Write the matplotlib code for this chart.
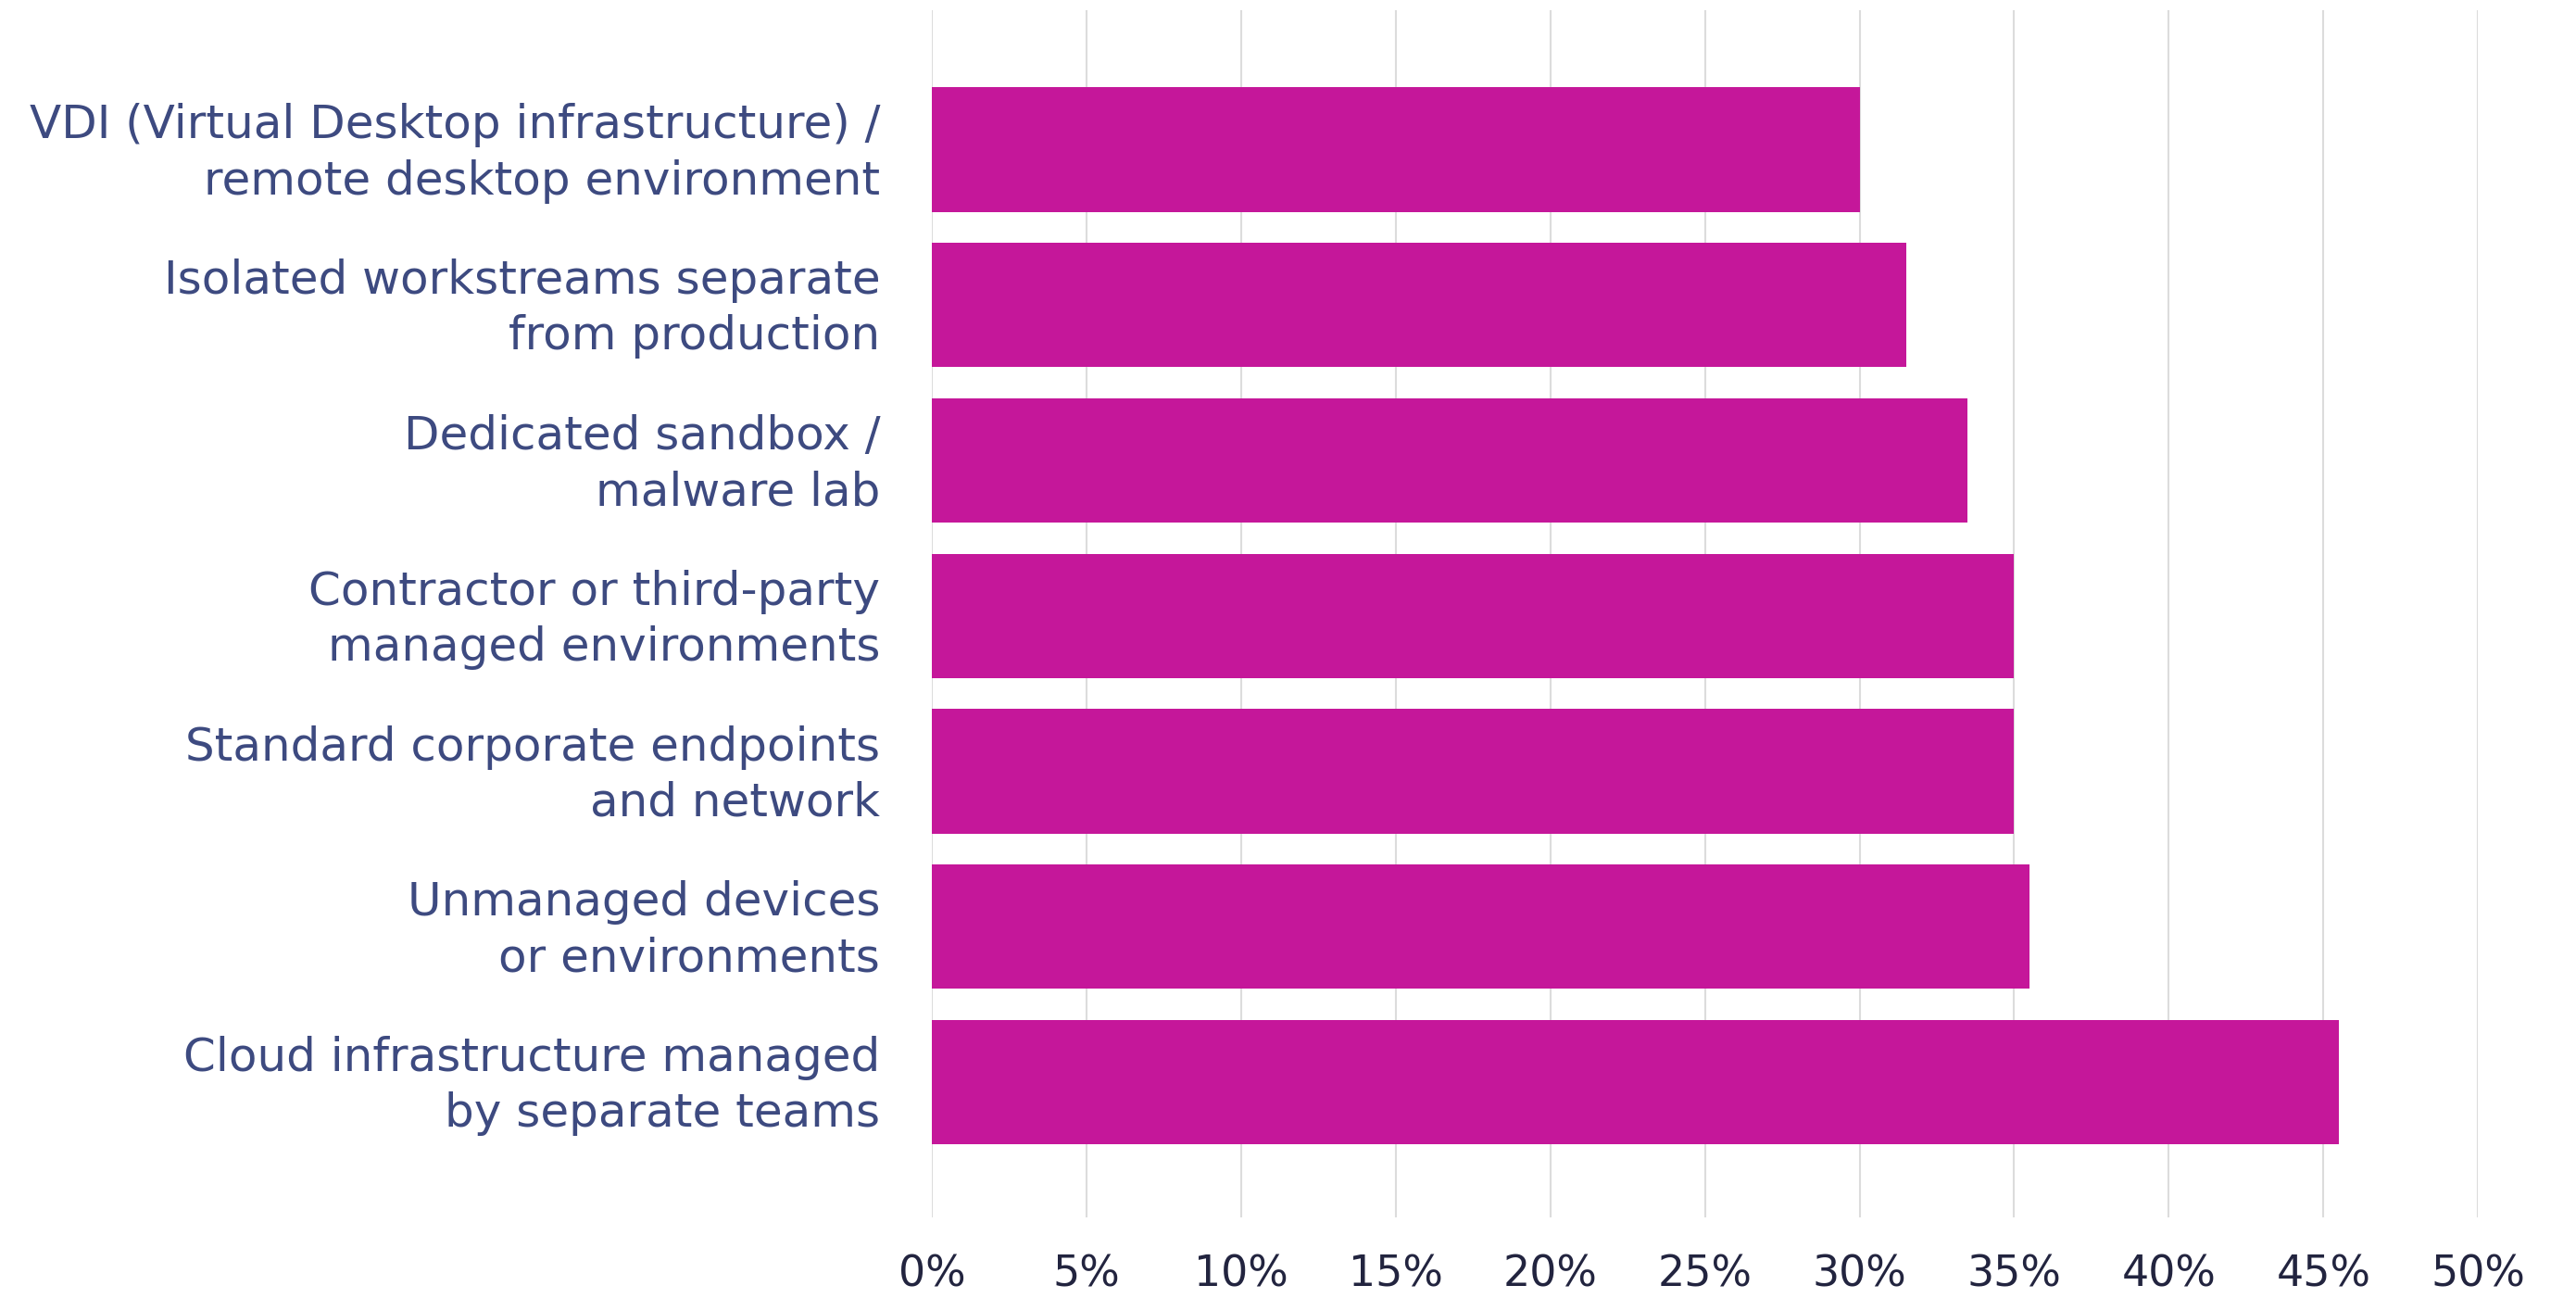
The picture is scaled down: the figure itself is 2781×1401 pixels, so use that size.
import numpy as np
import matplotlib.pyplot as plt
import matplotlib.transforms as mtrans

# categories top to bottom
labels = ['VDI (Virtual Desktop infrastructure) /\nremote desktop environment',
          'Isolated workstreams separate\nfrom production',
          'Dedicated sandbox /\nmalware lab',
          'Contractor or third-party\nmanaged environments',
          'Standard corporate endpoints\nand network',
          'Unmanaged devices\nor environments',
          'Cloud infrastructure managed\nby separate teams']
values = [30.0, 31.5, 33.5, 35.0, 35.0, 35.5, 45.5]
ticks = np.arange(0, 51, 5)

plt.rcParams['font.family'] = ['DejaVu Sans']

fig = plt.figure(figsize=(27.81, 14.01), dpi=100)
ax = fig.add_axes([0.3617, 0.062, 0.6003, 0.930])

y = np.arange(len(labels))
ax.barh(y, values, height=0.8, color='#c5179a', zorder=2)

ax.set_xlim(0, 50)
ax.set_ylim(len(labels) - 1 + 0.87, -0.895)
ax.set_xticks(ticks)
ax.set_xticklabels([f'{t}%' for t in ticks], fontsize=33, color='#22243f')
ax.set_yticks(y)
ax.set_yticklabels(labels, fontsize=36, color='#3d4a80', linespacing=1.32)
ax.tick_params(axis='both', length=0)
ax.tick_params(axis='x', pad=28)
ax.tick_params(axis='y', pad=40)

# nudge the category labels up a little
shift = mtrans.ScaledTranslation(0, 7 / 100, fig.dpi_scale_trans)
for lab in ax.get_yticklabels():
    lab.set_transform(lab.get_transform() + shift)

ax.grid(axis='x', color='#dcdcdc', linewidth=1.5, zorder=0)
for s in ax.spines.values():
    s.set_visible(False)

fig.savefig('out.png', dpi=100)
